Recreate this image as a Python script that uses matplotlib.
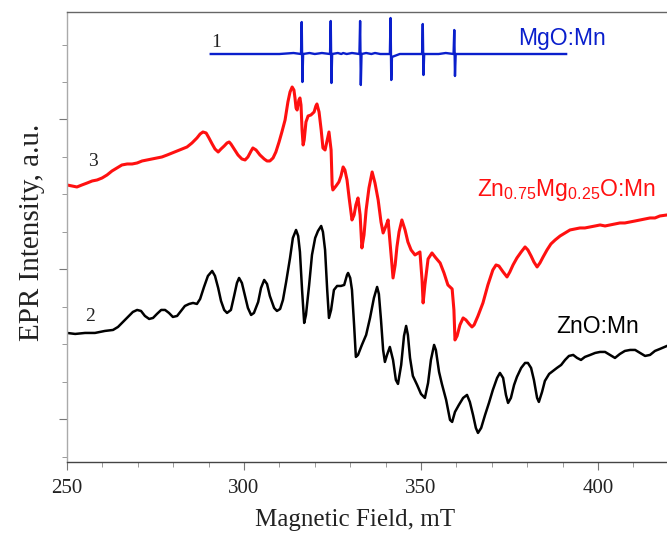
import matplotlib
matplotlib.use("Agg")
import matplotlib.pyplot as plt

plt.rcParams['font.family'] = ['Liberation Serif', 'DejaVu Serif']
plt.rcParams['mathtext.fontset'] = 'custom'
plt.rcParams['mathtext.rm'] = 'Liberation Sans'
plt.rcParams['mathtext.it'] = 'Liberation Sans'

# magnetic field (mT) and intensity (a.u.)
# curve 1 - MgO:Mn, six sharp hyperfine lines
mgo_field = [290.6, 300.0, 310.0, 314.0, 316.1, 316.3, 316.5, 316.7, 318.5, 320.0, 322.0,
             324.3, 324.5, 324.7, 324.9, 326.5, 327.5, 328.0, 329.0, 330.5,
             332.6, 332.8, 333.0, 333.2, 334.5, 336.0, 337.0, 338.5,
             341.2, 341.4, 341.6, 341.8, 342.5, 344.0, 346.0, 348.0,
             350.3, 350.5, 350.7, 350.9, 353.0, 355.0, 357.0,
             359.2, 359.4, 359.6, 359.8, 365.0, 391.0]
mgo_int = [408, 408, 408, 409, 408, 440, 380, 408, 409, 408, 409,
           408, 441, 379, 408, 409, 408, 409, 408, 409,
           408, 441, 377, 408, 409, 408, 409, 408,
           408, 444, 382, 405, 406, 408, 408, 408,
           408, 438, 387, 408, 408, 408, 409,
           408, 432, 386, 408, 408, 408]

# curve 3 - Zn0.75Mg0.25O:Mn
znmg_field = [250.0, 251.4, 252.8, 254.2, 255.7, 257.1, 258.5, 259.9, 261.3, 262.7,
              264.1, 265.5, 267.0, 268.4, 269.8, 271.2, 272.6, 274.0, 275.4, 276.8,
              278.3, 279.7, 281.1, 282.5, 283.9, 285.3, 286.7, 287.6, 288.4, 289.3,
              290.1, 291.0, 291.8, 292.7, 293.5, 294.4, 295.2, 295.8, 296.3, 297.2,
              298.3, 299.4, 300.3, 301.1, 302.0, 302.5, 303.4, 304.5, 305.7, 306.5,
              307.3, 308.2, 309.0, 309.9, 310.7, 311.6, 312.4, 313.0, 313.6, 314.1,
              314.4, 314.7, 315.0, 315.5, 315.8, 316.1, 316.4, 316.7, 317.0, 317.5,
              318.1, 318.9, 319.8, 320.3, 320.6, 321.2, 321.8, 322.3, 322.9, 323.5,
              324.0, 324.6, 324.9, 325.1, 326.0, 326.8, 327.4, 328.0, 328.5, 329.1,
              329.7, 330.5, 331.1, 331.6, 332.2, 332.8, 333.3, 333.9, 334.5, 335.3,
              336.2, 337.0, 337.9, 338.7, 339.3, 340.1, 340.7, 341.2, 341.8, 342.1,
              342.7, 343.2, 343.8, 344.6, 345.5, 346.3, 347.2, 348.3, 349.2, 349.7,
              350.3, 350.6, 351.1, 352.0, 353.1, 354.2, 355.4, 356.5, 357.6, 358.8,
              359.3, 359.6, 360.2, 361.0, 361.9, 362.7, 363.6, 364.4, 365.0, 366.1,
              367.5, 368.9, 370.3, 371.2, 372.0, 373.2, 374.3, 375.1, 376.0, 377.1,
              378.3, 379.4, 380.2, 381.1, 381.9, 382.8, 383.6, 384.5, 385.6, 386.7,
              387.9, 389.3, 390.7, 392.1, 393.5, 394.9, 396.3, 397.8, 399.2, 400.6,
              402.0, 403.4, 404.8, 406.2, 407.6, 409.1, 410.5, 411.9, 413.3, 414.7,
              416.1, 417.5, 419.5]
znmg_int = [277, 276, 275, 277, 279, 281, 282, 284, 287, 291,
            294, 297, 298, 298, 299, 301, 302, 303, 304, 305,
            307, 309, 311, 313, 315, 319, 324, 328, 330, 329,
            324, 318, 313, 310, 313, 316, 319, 320, 318, 313,
            307, 303, 302, 305, 311, 314, 312, 307, 303, 301,
            301, 304, 310, 320, 330, 342, 360, 370, 375, 372,
            364, 354, 352, 362, 364, 357, 332, 317, 322, 340,
            346, 347, 350, 356, 358, 350, 332, 314, 312, 322,
            330, 312, 277, 272, 276, 280, 286, 295, 292, 282,
            264, 242, 247, 257, 264, 247, 214, 227, 252, 274,
            290, 279, 262, 240, 229, 236, 242, 222, 197, 184,
            197, 215, 230, 242, 232, 220, 212, 207, 209, 210,
            182, 159, 177, 203, 209, 204, 199, 189, 177, 173,
            152, 122, 126, 137, 144, 142, 138, 135, 137, 146,
            159, 177, 192, 197, 196, 190, 185, 190, 197, 204,
            210, 215, 212, 206, 200, 195, 199, 205, 212, 218,
            222, 226, 229, 232, 233, 234, 234, 235, 236, 237,
            236, 237, 238, 239, 239, 240, 241, 242, 243, 244,
            244, 246, 247]

# curve 2 - ZnO:Mn
zno_field = [250.0, 252.3, 255.1, 257.9, 260.7, 263.0, 264.4, 265.8, 267.2, 268.6,
             269.8, 270.9, 272.0, 273.2, 274.3, 275.4, 276.6, 277.7, 278.8, 279.9,
             281.1, 282.2, 283.3, 284.5, 285.6, 286.7, 287.6, 288.7, 289.8, 291.0,
             291.8, 292.7, 293.5, 294.4, 295.2, 296.3, 297.2, 298.0, 298.6, 299.4,
             300.3, 301.1, 302.0, 302.8, 304.0, 304.8, 305.7, 306.5, 307.3, 308.5,
             309.3, 310.2, 311.0, 311.9, 313.0, 313.8, 314.7, 315.3, 315.8, 316.4,
             317.0, 317.5, 318.4, 319.2, 320.1, 320.9, 321.8, 322.3, 322.9, 323.5,
             324.0, 324.6, 325.4, 326.3, 327.4, 328.3, 329.1, 329.4, 330.0, 330.5,
             331.1, 331.6, 332.2, 333.3, 334.5, 335.6, 336.7, 337.6, 338.1, 338.7,
             339.3, 339.8, 340.4, 341.2, 342.1, 342.9, 343.5, 344.4, 345.2, 345.8,
             346.3, 346.9, 347.7, 348.9, 350.0, 351.1, 352.0, 352.8, 353.7, 354.2,
             355.1, 355.9, 357.1, 358.2, 358.8, 359.6, 360.7, 361.9, 363.0, 363.8,
             364.7, 365.5, 366.1, 367.0, 368.1, 369.2, 370.3, 371.5, 372.3, 373.2,
             374.0, 374.6, 375.4, 376.3, 377.1, 378.3, 379.4, 380.2, 381.1, 381.9,
             382.8, 383.3, 384.2, 385.0, 386.2, 387.3, 388.4, 389.6, 390.7, 391.8,
             393.0, 394.1, 395.2, 396.3, 397.8, 399.2, 400.6, 402.0, 403.4, 404.8,
             406.2, 407.6, 409.1, 410.5, 411.9, 413.3, 414.7, 416.1, 417.5, 419.5]
zno_int = [129, 128, 129, 129, 131, 132, 135, 140, 145, 150,
           152, 151, 146, 143, 144, 148, 152, 152, 149, 145,
           146, 151, 156, 158, 159, 158, 163, 175, 186, 191,
           186, 174, 161, 152, 149, 152, 166, 179, 184, 179,
           166, 154, 147, 149, 160, 174, 182, 178, 166, 154,
           151, 153, 162, 180, 204, 224, 232, 226, 210, 172,
           139, 147, 177, 207, 224, 231, 236, 230, 212, 172,
           144, 152, 172, 176, 176, 177, 187, 189, 184, 172,
           137, 105, 107, 117, 127, 144, 164, 175, 168, 142,
           112, 100, 107, 115, 102, 82, 78, 97, 126, 136,
           127, 104, 86, 77, 68, 64, 79, 102, 117, 112,
           90, 78, 62, 42, 40, 50, 57, 64, 67, 60,
           47, 34, 29, 34, 47, 59, 72, 84, 89, 84,
           67, 59, 64, 77, 85, 94, 99, 99, 94, 82,
           64, 60, 70, 81, 88, 91, 94, 97, 102, 106,
           107, 104, 102, 105, 107, 109, 110, 110, 107, 104,
           108, 111, 112, 112, 109, 106, 107, 111, 113, 116]

fig = plt.figure(figsize=(6.67, 5.34), dpi=100)
ax = fig.add_axes([0.1005, 0.135, 0.8995, 0.8425])

ax.plot(mgo_field, mgo_int, color='#0a1fcc', lw=1.7)
ax.plot(znmg_field, znmg_int, color='#ff1010', lw=2.2)
ax.plot(zno_field, zno_int, color='black', lw=1.8)

ax.set_xlim(250, 419.5)
ax.set_ylim(0, 450)

ax.set_xticks([250, 300, 350, 400])
ax.set_xticks(range(260, 420, 10), minor=True)
ax.set_yticks([42.5, 192.5, 342.5])
ax.set_yticks([5 + 37.5 * k for k in range(12)], minor=True)
ax.set_yticklabels([])

ax.tick_params(axis='both', which='major', direction='out', length=6, width=0.8,
               color='#777777', labelsize=15, labelcolor='#222222', pad=6)
ax.tick_params(axis='both', which='minor', direction='out', length=3.5, width=0.7,
               color='#999999')

ax.spines['right'].set_visible(False)
ax.spines['top'].set_color('#666666')
ax.spines['left'].set_color('#aaaaaa')
ax.spines['bottom'].set_color('#444444')
for s in ['top', 'left', 'bottom']:
    ax.spines[s].set_linewidth(1.0)

# label sits low, close to the bottom edge as in the reference
ax.set_xlabel('Magnetic Field, mT', fontsize=18, color='#222222')
ax.xaxis.set_label_coords(0.48, -0.104)
ax.set_ylabel('EPR Intensity, a.u.', fontsize=21, color='#222222')
ax.yaxis.set_label_coords(-0.036, 0.511)

ax.text(292.1, 420, '1', fontsize=14, ha='center', va='center', color='#222222')
ax.text(257.3, 300, '3', fontsize=14, ha='center', va='center', color='#222222')
ax.text(256.5, 145, '2', fontsize=14, ha='center', va='center', color='#222222')

ax.text(377.4, 424, 'MgO:Mn', fontsize=16.5, ha='left', va='center',
        color='#0a1fcc', family='Liberation Sans')
ax.text(365.8, 272, r'Zn$_{0.75}$Mg$_{0.25}$O:Mn', fontsize=16.5, ha='left',
        va='center', color='#ff1010', family='Liberation Sans')
ax.text(388.1, 135, 'ZnO:Mn', fontsize=16.5, ha='left', va='center',
        color='black', family='Liberation Sans')

fig.savefig('out.png', dpi=100)
